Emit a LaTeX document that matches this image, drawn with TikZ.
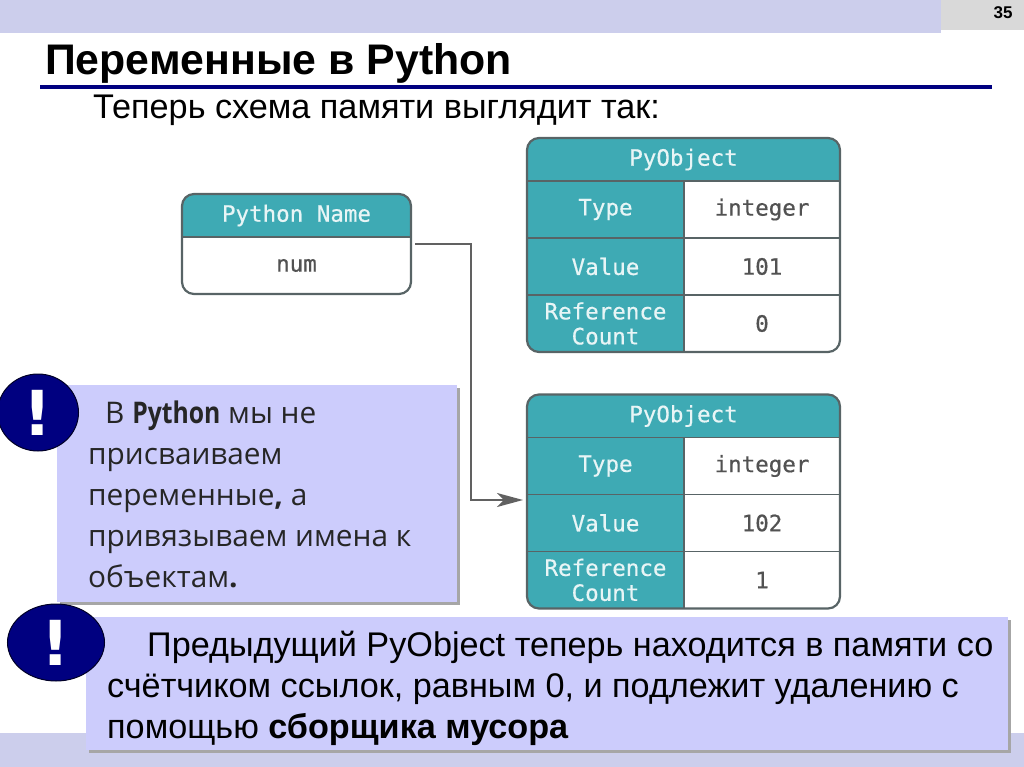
\documentclass[tikz,border=0pt]{standalone}
\usepackage{fontspec}
\setmainfont{Liberation Sans}
\newfontfamily\notefont{Open Sans}
\newfontfamily\narrowfont[FakeStretch=0.83]{Open Sans}
\newfontfamily\objfont[FakeBold=0.5]{DejaVu Sans Mono}
\newfontfamily\markfont{DejaVu Sans}
\usetikzlibrary{arrows.meta,
           positioning,
           shapes.geometric,          % for the ellipses
           shadows}
\definecolor{band}{RGB}{204,206,236}
\definecolor{notefill}{RGB}{204,204,252}
\definecolor{navy}{RGB}{0,0,128}
\definecolor{teal}{RGB}{62,170,180}
\definecolor{frame}{RGB}{88,100,102}
\tikzset{
  headcell/.style={fill=teal,draw=frame,line width=1.8pt,inner sep=0pt,outer sep=0pt,
    minimum width=313pt,minimum height=43pt,text=teal!12,
    font=\objfont\fontsize{22.5}{25}\selectfont},
  keycell/.style={fill=teal,draw=frame,line width=1.8pt,inner sep=0pt,outer sep=0pt,align=center,
    minimum width=157pt,minimum height=57pt,text=teal!12,
    font=\objfont\fontsize{22.5}{25}\selectfont},
  valcell/.style={fill=white,draw=frame,line width=1.8pt,inner sep=0pt,outer sep=0pt,
    minimum width=156pt,minimum height=57pt,text=black!68,
    font=\objfont\fontsize{22.5}{25}\selectfont},
  objframe/.style={draw=frame,line width=2.2pt,rounded corners=12pt},
  notebox/.style={fill=notefill,inner sep=0pt,outer sep=0pt,anchor=north west,
    drop shadow={shadow xshift=2.5pt,shadow yshift=-2.5pt,fill=black!35,opacity=1}},
  notemark/.style={ellipse,fill=navy,draw=black!70!navy,line width=1pt,inner sep=0pt,text=white,
    font=\markfont\fontsize{62}{62}\selectfont\bfseries},
  refline/.style={draw=black!62,line width=1.8pt,-{Stealth[length=26pt,width=14pt,inset=7pt]}}
}
\begin{document}
\begin{tikzpicture}[x=1pt,y=-1pt]
\useasboundingbox (0,0) rectangle (1024,767);
\fill[band] (0,0) rectangle (941,33);
\fill[black!15] (941,0) rectangle (1024,30);
\fill[band] (0,733) rectangle (1024,767);
\fill[navy] (40,85) rectangle (992,89.5);
\node[font=\fontsize{17}{20}\selectfont\bfseries] (pagenum) at (1003,13) {35};
\node[anchor=base west,inner sep=0pt,font=\fontsize{42.8}{46}\selectfont\bfseries] (title) at (45,75) {Переменные в Python};
\node[anchor=base west,inner sep=0pt,font=\fontsize{34.2}{38}\selectfont] (subtitle) at (93,119) {Теперь схема памяти выглядит так:};
\begin{scope}
\clip[rounded corners=12pt] (182,194) rectangle (411,294);
\node[headcell,minimum width=229pt,minimum height=43pt] (namehead) at (296.5,215.5) {Python Name};
\node[valcell,minimum width=229pt,anchor=north,minimum height=57pt] (namecell) at (namehead.south) {num};
\end{scope}
\draw[objframe] (namehead.north west) rectangle (namecell.south east);
\foreach \i/\dy/\num/\cnt in {1/0/101/0,2/256.5/102/1} {
\begin{scope}[yshift=-\dy pt]
\clip[rounded corners=12pt] (527,138) rectangle (840,352);
\node[headcell] (obj\i head) at (683.5,159.5) {PyObject};
\node[keycell,anchor=north west] (obj\i type) at (obj\i head.south west) {Type};
\node[valcell,anchor=north west] (obj\i typeval) at (obj\i type.north east) {integer};
\node[keycell,anchor=north west] (obj\i value) at (obj\i type.south west) {Value};
\node[valcell,anchor=north west] (obj\i valueval) at (obj\i value.north east) {\num};
\node[keycell,anchor=north west] (obj\i count) at (obj\i value.south west) {Reference\\Count};
\node[valcell,anchor=north west] (obj\i countval) at (obj\i count.north east) {\cnt};
\end{scope}
\draw[objframe] (obj\i head.north west) rectangle (obj\i countval.south east);
}
\coordinate (refstart) at (415,244);
\coordinate (refmid) at (471,372);
\coordinate (refend) at (523,500);
\draw[refline] (refstart) -| (refmid) |- (refend);
\node[notebox,minimum width=400pt,minimum height=217pt] (note1) at (57,385) {};
\node[anchor=base west,align=left,inner sep=0pt,text=black!85,font=\notefont\fontsize{29.8}{41}\selectfont] (note1text) at (88,587)
{\hspace*{17pt}В {\narrowfont\bfseries Python} мы не\\присваиваем\\переменные{\bfseries,} а\\привязываем имена к\\объектам{\bfseries.}};
\node[notebox,minimum width=922pt,minimum height=133pt] (note2) at (86,617) {};
\node[anchor=base west,align=left,inner sep=0pt,font=\fontsize{34.2}{41}\selectfont] (note2text) at (107,738.5)
{\hspace*{40pt}Предыдущий PyObject теперь находится в памяти со\\счётчиком ссылок, равным 0, и подлежит удалению с\\помощью \textbf{сборщика мусора}};
\node[notemark,minimum width=81pt,minimum height=77pt] (mark1) at (38,412.5) {!};
\node[notemark,minimum width=97pt,minimum height=77pt] (mark2) at (56,642.5) {!};
\end{tikzpicture}
\end{document}
